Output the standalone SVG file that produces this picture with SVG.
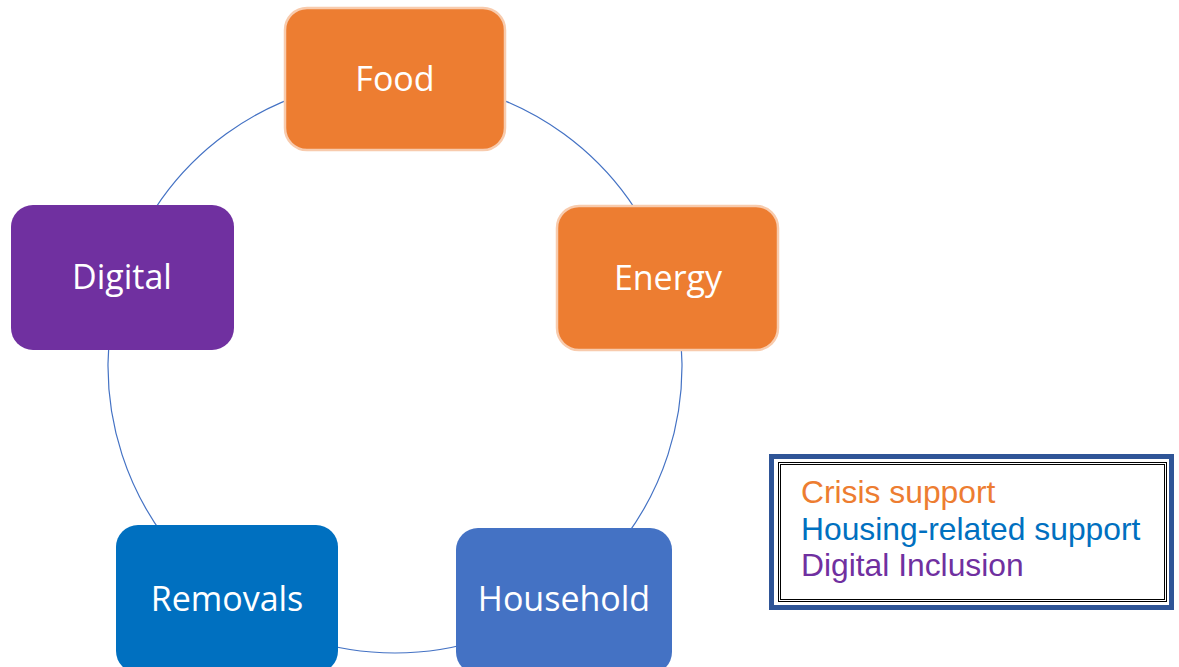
<svg xmlns="http://www.w3.org/2000/svg" width="1179" height="667" viewBox="0 0 1179 667">
<style>
.node text{font-family:"Open Sans","Noto Sans",sans-serif;font-size:34px;fill:#FFFFFF;text-anchor:middle}
.conn{fill:none;stroke:#4472C4;stroke-width:1.2}
.leg{font-family:"Liberation Sans",Arial,sans-serif;font-size:31.8px}
</style>
<rect width="1179" height="667" fill="#FFFFFF"/>
<g id="connectors">
<path class="conn" d="M395,79 A287,287 0 0 1 667.95,277.3"/>
<path class="conn" d="M667.95,277.3 A287,287 0 0 1 563.7,598.2"/>
<path class="conn" d="M563.7,598.2 A287,287 0 0 1 226.3,598.2"/>
<path class="conn" d="M226.3,598.2 A287,287 0 0 1 122.05,277.3"/>
<path class="conn" d="M122.05,277.3 A287,287 0 0 1 395,79"/>
</g>
<g id="food" class="node">
<rect x="285" y="8" width="220" height="142" rx="22" fill="#ED7D31" stroke="#F8CBAD" stroke-width="2.5"/>
<text x="395" y="91">Food</text>
</g>
<g id="energy" class="node">
<rect x="557" y="206" width="221" height="144" rx="22" fill="#ED7D31" stroke="#F8CBAD" stroke-width="2.5"/>
<text x="668" y="290">Energy</text>
</g>
<g id="household" class="node">
<rect x="456" y="528" width="216" height="146" rx="22" fill="#4472C4"/>
<text x="564" y="611">Household</text>
</g>
<g id="removals" class="node">
<rect x="116" y="525" width="222" height="148" rx="22" fill="#0070C0"/>
<text x="227" y="611">Removals</text>
</g>
<g id="digital" class="node">
<rect x="11" y="205" width="223" height="145" rx="22" fill="#7030A0"/>
<text x="122" y="289">Digital</text>
</g>
<g id="legend">
<rect x="771.5" y="456.5" width="400" height="151" fill="#FFFFFF" stroke="#2F5597" stroke-width="5"/>
<rect x="778.5" y="462.5" width="388" height="139" fill="none" stroke="#000000" stroke-width="1"/>
<rect x="780.5" y="464.5" width="384" height="135" fill="none" stroke="#000000" stroke-width="1"/>
<text class="leg" x="801" y="503" fill="#ED7D31">Crisis support</text>
<text class="leg" x="801" y="540" fill="#0070C0">Housing-related support</text>
<text class="leg" x="801" y="576" fill="#7030A0">Digital Inclusion</text>
</g>
</svg>
